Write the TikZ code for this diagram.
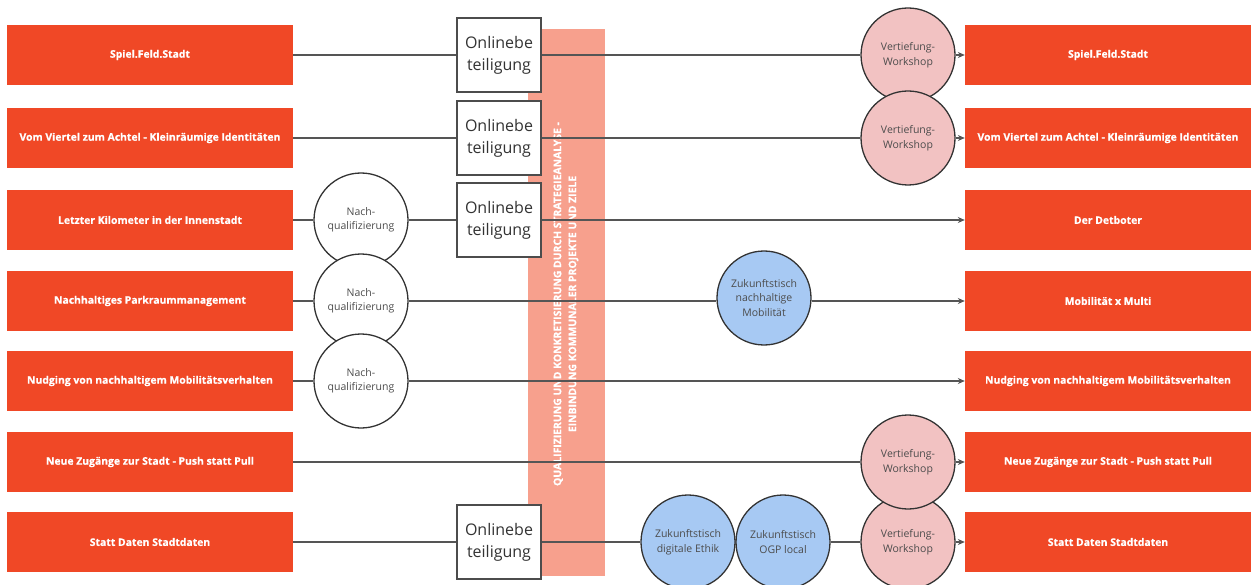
\documentclass[tikz,border=0pt]{standalone}
\usepackage{fontspec}
\setmainfont{Open Sans}[BoldFont={Open Sans Bold}, BoldFeatures={FakeBold=0.6}]
\usetikzlibrary{arrows.meta, positioning}

\definecolor{projred}{HTML}{F04826}
\definecolor{barred}{HTML}{F7A08D}
\definecolor{pinkws}{HTML}{F2C2C2}
\definecolor{bluezt}{HTML}{A7C9F3}
\definecolor{linegray}{HTML}{555555}

\tikzset{
	proj/.style={rectangle, fill=projred, text=white, minimum width=286pt, minimum height=60pt, inner sep=0pt, font=\fontsize{10.4}{12}\selectfont\bfseries},
	online/.style={rectangle, draw=black!70, line width=1.3pt, fill=white, minimum width=84pt, minimum height=74pt, inner sep=0pt, align=center, text=black!80, font=\fontsize{16}{22}\selectfont},
	bubble/.style={circle, draw=black!80, line width=1.3pt, minimum size=94pt, inner sep=0pt, align=center, text=black!70, font=\fontsize{10.5}{14.5}\selectfont},
	nachq/.style={bubble, fill=white},
	workshop/.style={bubble, fill=pinkws},
	zutisch/.style={bubble, fill=bluezt},
	link/.style={draw=linegray, line width=1.2pt},
	tolink/.style={link, -{Stealth[length=7pt,width=6pt]}},
}

\begin{document}
\begin{tikzpicture}[x=1pt, y=-1pt]
	\useasboundingbox (0,0) rectangle (1252,585);
	
	\def\xL{150};
	\def\xR{1108};
	
	%strategy bar
	\fill [barred] (528,29) rectangle (605,576);
	\node [rotate=90, align=center, text=white, font=\fontsize{10.4}{15}\selectfont\bfseries] (bartext) at (566,304)
		{QUALIFIZIERUNG UND KONKRETISIERUNG DURCH STRATEGIEANALYSE -\\EINBINDUNG KOMMUNALER PROJEKTE UND ZIELE};
	
	%projects left and right
	\foreach \i/\y/\lt/\rt in {
		1/55/{Spiel.Feld.Stadt}/{Spiel.Feld.Stadt},
		2/138/{Vom Viertel zum Achtel - Kleinräumige Identitäten}/{Vom Viertel zum Achtel - Kleinräumige Identitäten},
		3/220/{Letzter Kilometer in der Innenstadt}/{Der Detboter},
		4/301/{Nachhaltiges Parkraummanagement}/{Mobilität x Multi},
		5/381/{Nudging von nachhaltigem Mobilitätsverhalten}/{Nudging von nachhaltigem Mobilitätsverhalten},
		6/462/{Neue Zugänge zur Stadt - Push statt Pull}/{Neue Zugänge zur Stadt - Push statt Pull},
		7/542/{Statt Daten Stadtdaten}/{Statt Daten Stadtdaten}}
	{
		\node [proj] (L\i) at (\xL,\y) {\lt};
		\node [proj] (R\i) at (\xR,\y) {\rt};
	}
	
	%online participation
	\node [online] (O1) at (499,55) {Onlinebe\\teiligung};
	\node [online] (O2) at (499,138) {Onlinebe\\teiligung};
	\node [online] (O3) at (499,220) {Onlinebe\\teiligung};
	\node [online] (O7) at (499,542) {Onlinebe\\teiligung};
	
	%re-qualification
	\node [nachq] (N3) at (361,220) {Nach-\\qualifizierung};
	\node [nachq] (N4) at (361,301) {Nach-\\qualifizierung};
	\node [nachq] (N5) at (361,381) {Nach-\\qualifizierung};
	
	%future tables
	\node [zutisch] (Z4) at (764,298) {Zukunftstisch\\nachhaltige\\Mobilität};
	\node [zutisch] (Z7a) at (688,542) {Zukunftstisch\\digitale Ethik};
	\node [zutisch] (Z7b) at (783,542) {Zukunftstisch\\OGP local};
	
	%workshops
	\node [workshop] (W1) at (908,55) {Vertiefung-\\Workshop};
	\node [workshop] (W2) at (908,138) {Vertiefung-\\Workshop};
	\node [workshop] (W7) at (908,542) {Vertiefung-\\Workshop};
	\node [workshop] (W6) at (908,462) {Vertiefung-\\Workshop};
	
	%connections
	\draw [link] (L1) -- (O1) -- (W1);
	\draw [tolink] (W1) -- (R1);
	\draw [link] (L2) -- (O2) -- (W2);
	\draw [tolink] (W2) -- (R2);
	\draw [link] (L3) -- (N3) -- (O3);
	\draw [tolink] (O3) -- (R3);
	\draw [link] (L4) -- (N4) -- (Z4.west |- N4.east);
	\draw [tolink] (Z4.east |- R4.west) -- (R4);
	\draw [link] (L5) -- (N5);
	\draw [tolink] (N5) -- (R5);
	\draw [link] (L6) -- (W6);
	\draw [tolink] (W6) -- (R6);
	\draw [link] (L7) -- (O7) -- (Z7a) (Z7b) -- (W7);
	\draw [tolink] (W7) -- (R7);
\end{tikzpicture}
\end{document}
